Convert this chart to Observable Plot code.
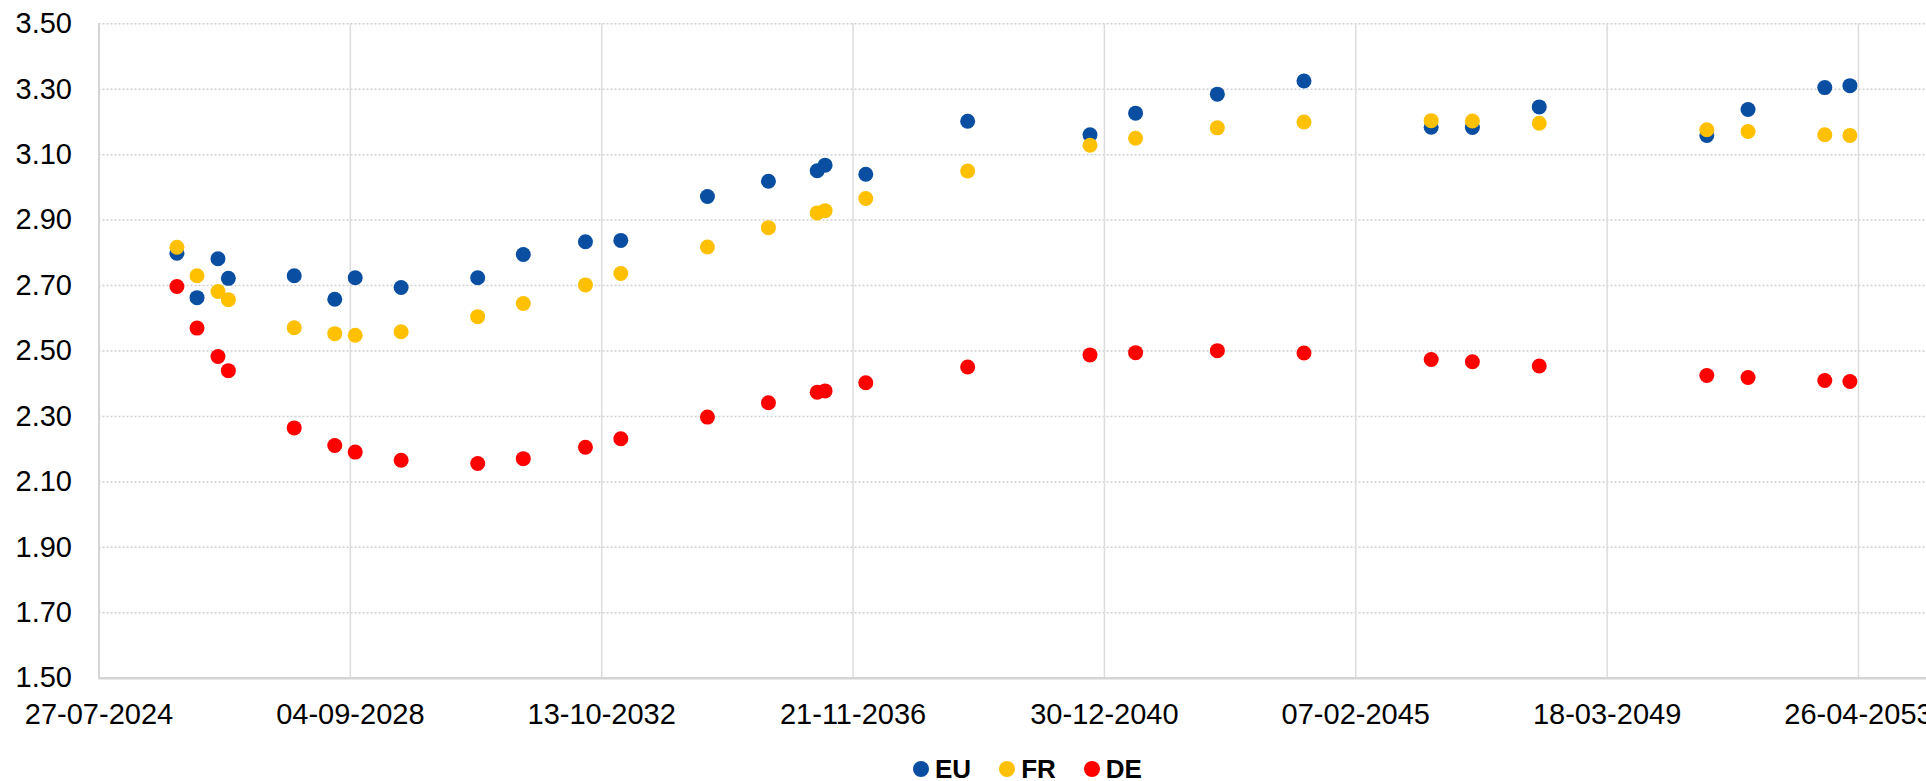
<!DOCTYPE html>
<html>
<head>
<meta charset="utf-8">
<script src="https://cdn.jsdelivr.net/npm/d3@7"></script>
<script src="https://cdn.jsdelivr.net/npm/@observablehq/plot@0.6"></script>
<style>
  html, body { margin: 0; padding: 0; background: #fff; overflow: hidden; }
  #wrap { position: relative; width: 1926px; height: 781px; }
  #legend { position: absolute; top: 759px; left: 913px; display: flex; align-items: center; line-height: 20px; height: 20px;
            font-family: "Liberation Sans", Arial, sans-serif; font-weight: bold; font-size: 26px; color: #000; }
  #legend .item { display: flex; align-items: center; margin-right: 28px; }
  #legend .sw { width: 16px; height: 16px; border-radius: 50%; margin-right: 6px; }
</style>
</head>
<body>
<div id="wrap"><div id="chart"></div><div id="legend"></div></div>
<script>
const dates = ["2025-11-04","2026-03-04","2026-07-07","2026-09-07","2027-10-05","2028-06-03","2028-10-03","2029-07-04",
  "2030-10-04","2031-07-03","2032-07-08","2033-02-04","2034-07-06","2035-07-05","2036-04-21","2036-06-07","2037-02-05",
  "2038-10-06","2040-10-05","2041-07-04","2042-11-04","2044-04-04","2046-05-03","2047-01-04","2048-02-07","2050-11-03",
  "2051-07-07","2052-10-07","2053-03-06"];
const eu = [2.799,2.663,2.782,2.722,2.730,2.658,2.724,2.694,2.724,2.795,2.834,2.838,2.972,3.019,3.051,3.068,3.040,
  3.202,3.161,3.227,3.285,3.325,3.184,3.183,3.246,3.159,3.238,3.305,3.311];
const fr = [2.817,2.730,2.682,2.657,2.571,2.553,2.548,2.559,2.605,2.645,2.702,2.737,2.818,2.877,2.922,2.929,2.966,
  3.050,3.129,3.150,3.182,3.200,3.204,3.203,3.196,3.176,3.171,3.161,3.159];
const de = [2.697,2.570,2.483,2.440,2.265,2.211,2.191,2.166,2.156,2.171,2.206,2.232,2.298,2.342,2.374,2.378,2.403,
  2.451,2.488,2.495,2.501,2.494,2.474,2.467,2.454,2.425,2.419,2.410,2.407];
const seriesNames = ["EU","FR","DE"];
const seriesColors = ["#0a4ea2","#ffc000","#ff0000"];
const xTickLabels = ["2024-07-27","2028-09-04","2032-10-13","2036-11-21","2040-12-30","2045-02-07","2049-03-18","2053-04-26"];
const yTicks = [1.5,1.7,1.9,2.1,2.3,2.5,2.7,2.9,3.1,3.3,3.5];
const xDomain = ["2024-07-27","2054-06-06"];

const parse = d3.utcParse("%Y-%m-%d");
const xTicks = xTickLabels.map(parse);
const seriesValues = [eu, fr, de];
const rows = [];
seriesNames.forEach((s, k) => dates.forEach((d, i) => rows.push({date: parse(d), value: seriesValues[k][i], series: s})));

const chart = Plot.plot({
  width: 1926,
  height: 745,
  marginLeft: 98.5,
  marginRight: 0,
  marginTop: 23.3,
  marginBottom: 67.3,
  style: {fontFamily: "'Liberation Sans', Arial, sans-serif", fontSize: "29px", color: "#000", background: "#fff"},
  x: {type: "utc", domain: xDomain.map(parse)},
  y: {domain: [1.5, 3.5]},
  color: {domain: seriesNames, range: seriesColors},
  marks: [
    Plot.gridY(yTicks, {stroke: "#d0d0d0", strokeOpacity: 1, strokeWidth: 1.5, strokeDasharray: "2,2"}),
    Plot.gridX(xTicks.slice(1), {stroke: "#dcdcdc", strokeOpacity: 1, strokeWidth: 1.5}),
    Plot.ruleX([xTicks[0]], {stroke: "#d4d4d4", strokeWidth: 2}),
    Plot.ruleY([1.5], {stroke: "#d4d4d4", strokeWidth: 2.5}),
    Plot.axisY(yTicks, {tickSize: 0, tickPadding: 27, tickFormat: d3.format(".2f"), fontSize: 29, fill: "#000", label: null}),
    Plot.axisX(xTicks, {tickSize: 0, tickPadding: 25, tickFormat: d3.utcFormat("%d-%m-%Y"), fontSize: 29, fill: "#000", label: null}),
    Plot.dot(rows, {x: "date", y: "value", fill: "series", r: 7.5, stroke: null})
  ]
});
document.getElementById("chart").appendChild(chart);

const legend = document.getElementById("legend");
seriesNames.forEach((s, i) => {
  const item = document.createElement("div");
  item.className = "item";
  const sw = document.createElement("span");
  sw.className = "sw";
  sw.style.background = seriesColors[i];
  const t = document.createElement("span");
  t.textContent = s;
  item.appendChild(sw); item.appendChild(t);
  legend.appendChild(item);
});
</script>
</body>
</html>
